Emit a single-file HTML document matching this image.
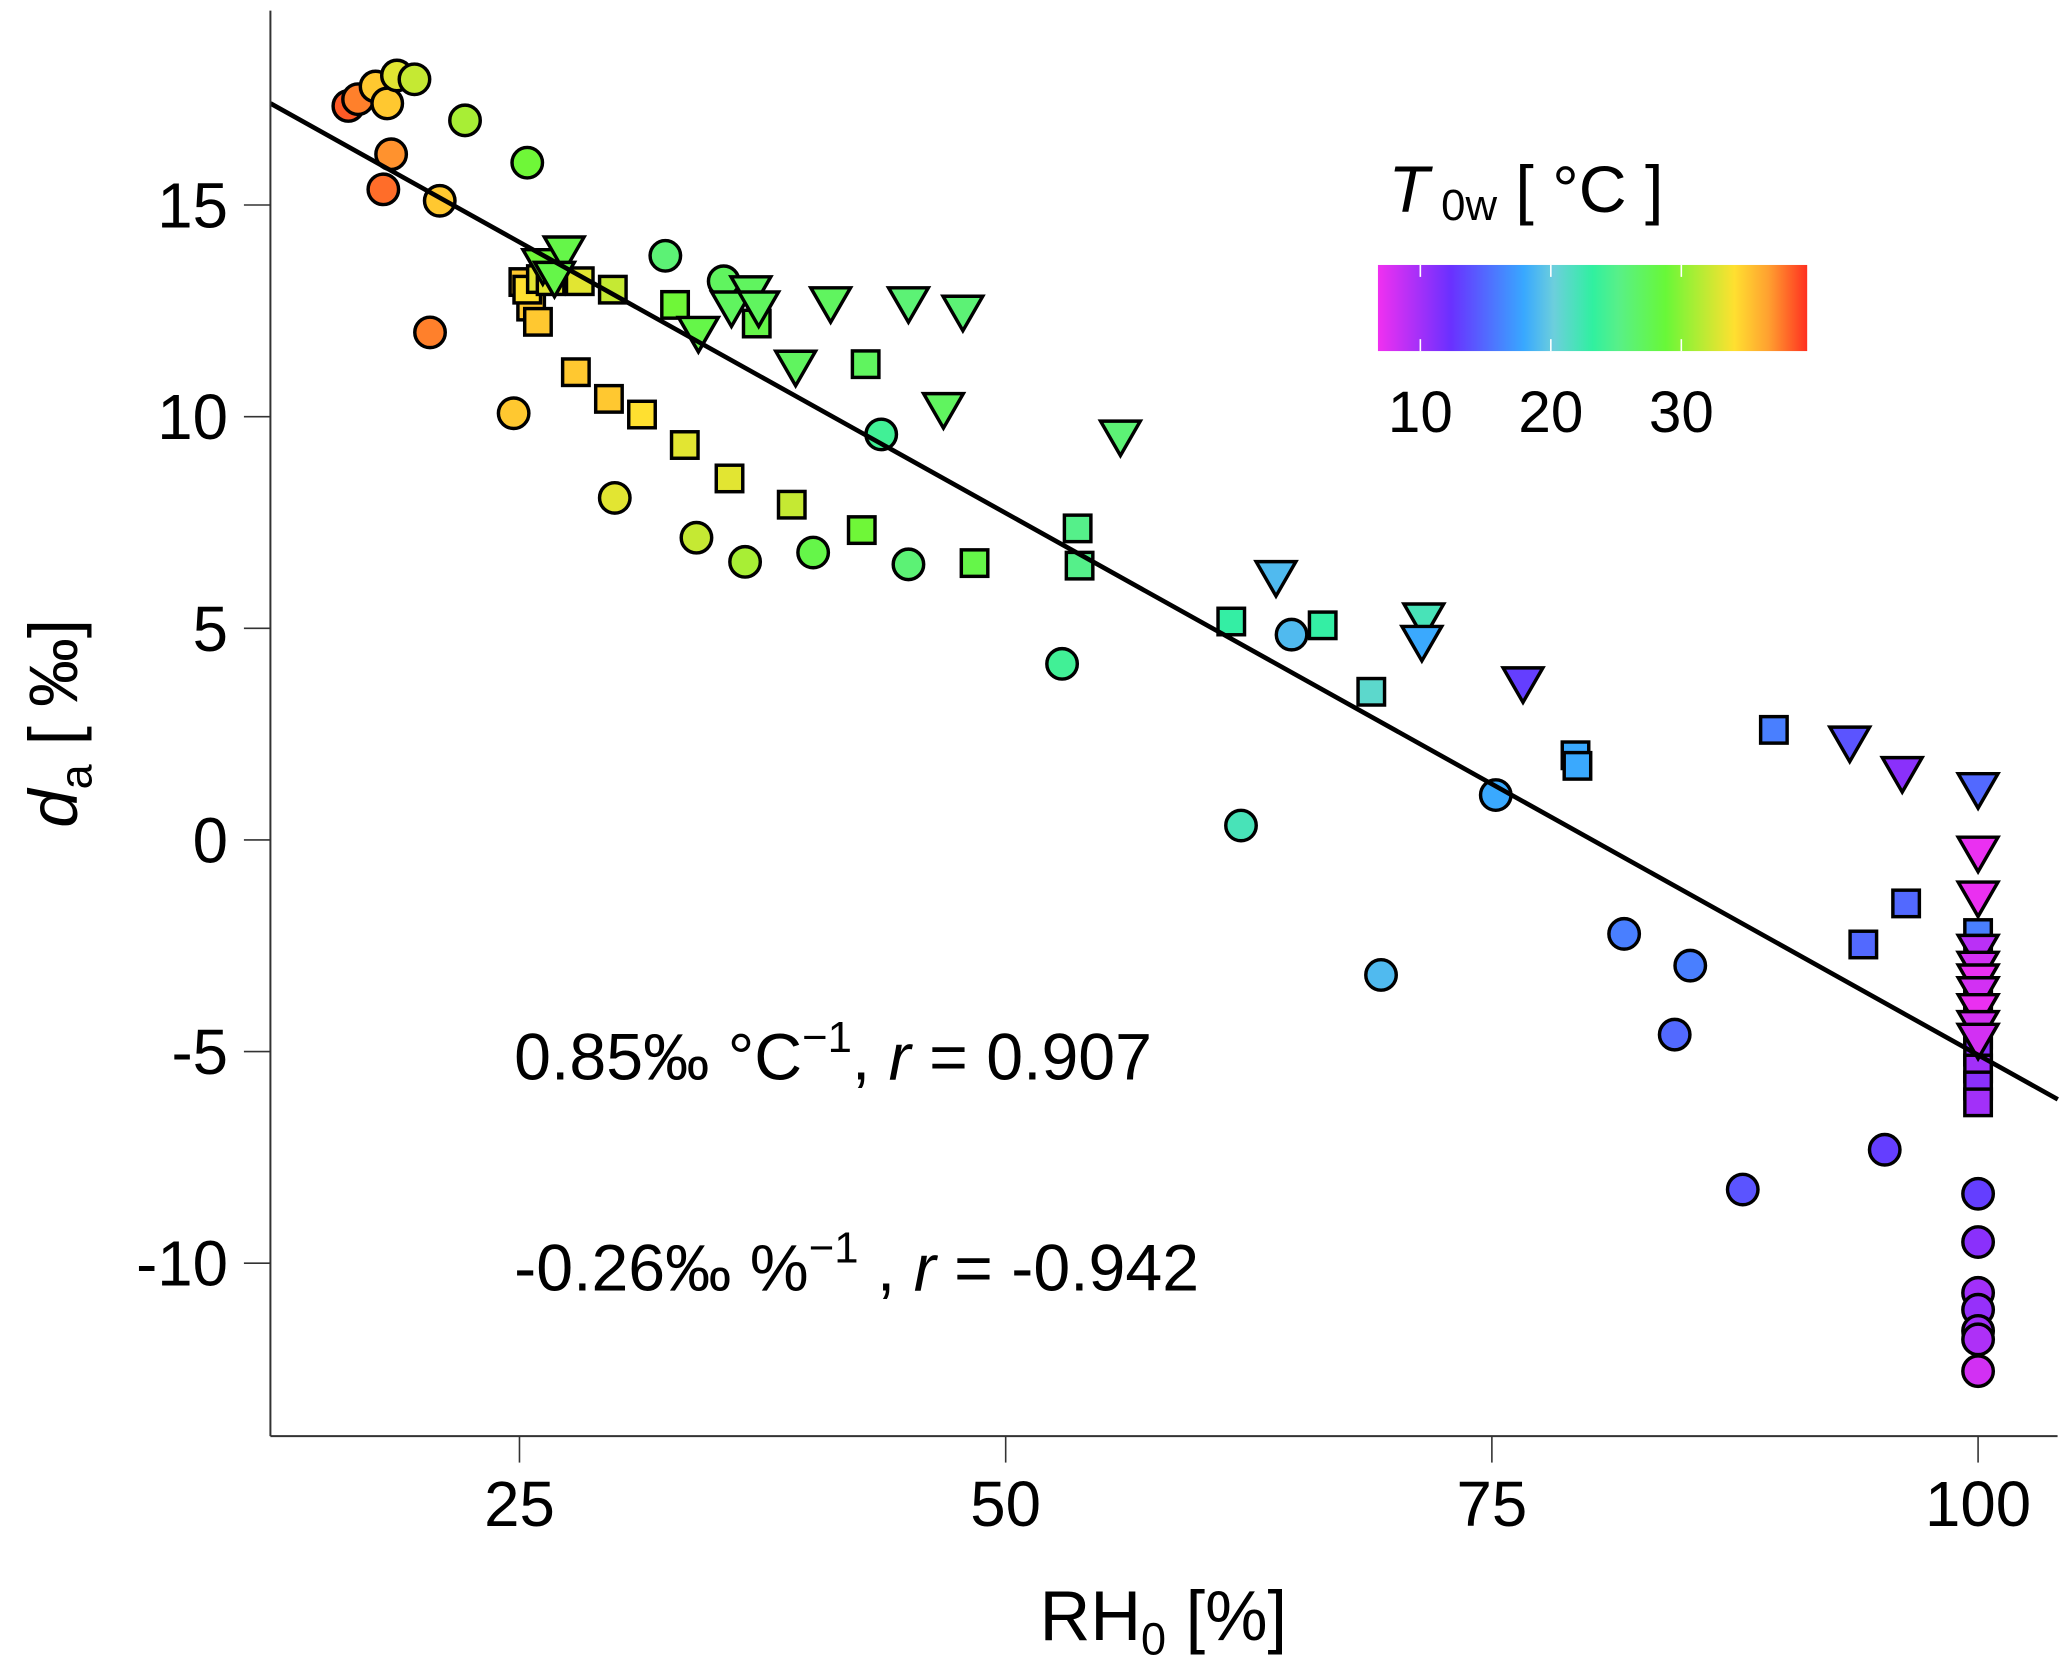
<!DOCTYPE html>
<html><head><meta charset="utf-8"><style>
html,body{margin:0;padding:0;background:#fff;}
svg{display:block;font-family:"Liberation Sans",sans-serif;}
</style></head><body>
<svg id="chart" width="2067" height="1656" viewBox="0 0 1560 1250" xmlns="http://www.w3.org/2000/svg">
<defs>
<linearGradient id="cbar" x1="0" x2="1" y1="0" y2="0">
<stop offset="0" stop-color="#f030f0"/>
<stop offset="0.17" stop-color="#6a30ff"/>
<stop offset="0.34" stop-color="#38a8ff"/>
<stop offset="0.41" stop-color="#6ccfdc"/>
<stop offset="0.5" stop-color="#30f0a0"/>
<stop offset="0.56" stop-color="#58f088"/>
<stop offset="0.67" stop-color="#68f838"/>
<stop offset="0.83" stop-color="#ffe030"/>
<stop offset="0.91" stop-color="#ffa030"/>
<stop offset="1" stop-color="#ff3020"/>
</linearGradient>
</defs>
<g id="marks"></g>
<line x1="204" y1="8" x2="204" y2="1084" stroke="#333" stroke-width="1.5"/>
<line x1="204" y1="1084" x2="1553" y2="1084" stroke="#333" stroke-width="1.5"/>
<g id="ticks"></g>
<text x="878" y="1238" font-size="53" text-anchor="middle">RH<tspan font-size="34" dy="11">0</tspan><tspan dy="-11"> [%]</tspan></text>
<text transform="translate(58,546) rotate(-90)" font-size="52" text-anchor="middle"><tspan font-style="italic">d</tspan><tspan font-size="34" dy="11">a</tspan><tspan dy="-11"> [ ‰]</tspan></text>
<text x="388" y="815" font-size="50">0.85‰ °C<tspan font-size="33" dy="-21">−1</tspan><tspan dy="21">, </tspan><tspan font-style="italic">r</tspan> = 0.907</text>
<text x="388" y="974" font-size="50">-0.26‰ %<tspan font-size="33" dy="-21">−1</tspan><tspan dy="21"> , </tspan><tspan font-style="italic">r</tspan> = -0.942</text>
<g>
<text x="1048" y="160" font-size="50"><tspan font-style="italic">T</tspan><tspan font-size="33" dy="6"> 0w</tspan><tspan dy="-6"> [ °C ]</tspan></text>
<rect x="1040" y="200" width="324" height="65" fill="url(#cbar)"/>
<g id="cbticks"></g>
</g>
</svg>
<script>
const xTicks=[25,50,75,100];
const yTicks=[15,10,5,0,-5,-10];
const cbTicks=[10,20,30];
const circX=[16.2,16.7,17.6,18.2,18.7,19.6,18.4,18.0,20.9,20.4,22.2,25.4,24.7,32.5,35.5,29.9,34.1,36.6,40.1,43.6,45.0,52.9,62.1,64.7,69.3,75.2,81.8,85.2,84.4,87.9,95.2,100,100,100,100,100,100,100];
const circY=[17.34,17.5,17.8,17.4,18.06,17.97,16.2,15.37,15.1,11.99,17.0,16.0,10.08,13.8,13.2,8.08,7.14,6.57,6.79,9.58,6.51,4.16,0.34,4.85,-3.19,1.06,-2.22,-2.97,-4.6,-8.26,-7.32,-8.36,-9.5,-10.7,-11.1,-11.6,-11.8,-12.55];
const circT=[38.5,37.5,35,35,33,32,37,38,35,37.5,31,29,35,26,27,33,32,31,28,24,26,24,22,19,19,18,16,16,15,14,13,13,11,10,10.5,10,9.5,8];
const sqX=[25.2,25.6,25.95,25.4,26.1,26.6,28.1,29.8,33.0,27.9,29.6,31.3,33.5,35.8,39.0,42.6,48.4,37.2,42.8,53.7,53.8,61.6,66.3,68.8,79.3,79.4,89.5,96.3,94.1,100,100,100,100,100,100,100,100,100,100,100];
const sqY=[13.18,12.6,12.24,13.0,13.25,13.2,13.2,13.0,12.64,11.05,10.42,10.05,9.33,8.54,7.92,7.32,6.54,12.2,11.24,7.36,6.48,5.16,5.07,3.5,2.0,1.75,2.6,-1.5,-2.47,-2.2,-2.6,-3.0,-3.4,-3.8,-4.2,-4.6,-5.0,-5.4,-5.8,-6.2];
const sqT=[35,35,35,34,33,33,33,32,29,35,35,34,33,33,32,29,28,28,27,25,25,23,23,21,18,18,16,15,15,16,12,11,11,10,11,10,11,10,11,10];
const triX=[26.2,27.3,26.8,34.2,35.9,36.9,37.3,39.2,41.0,45.0,47.8,46.8,55.9,63.9,71.5,71.4,76.6,93.4,96.1,100,100,100,100,100,100,100,100,100,100];
const triY=[13.6,13.9,13.3,12.0,12.6,12.96,12.6,11.2,12.7,12.7,12.5,10.2,9.55,6.23,5.23,4.7,3.72,2.32,1.6,1.22,-0.28,-1.34,-2.6,-3.0,-3.3,-3.6,-4.0,-4.4,-4.7];
const triT=[29,28,28,28,27,27,27,27,27,26,26,27,26,19,22,18,13,14,11,15,7,7,9,8,7,8,7,8,8];
const fitX=[12.2,104.1];
const fitY=[17.4,-6.13];

const NS="http://www.w3.org/2000/svg";
function sx(v){return 392+(v-25)*14.68;}
function sy(v){return 634-v*31.95;}
function cbx(t){return 1072+(t-10)*9.85;}
const tMin=6.75,tMax=39.6;
const stops=[[0,[240,48,240]],[0.17,[106,48,255]],[0.34,[56,168,255]],[0.41,[108,207,220]],[0.5,[48,240,160]],[0.56,[88,240,136]],[0.67,[104,248,56]],[0.83,[255,224,48]],[0.91,[255,160,48]],[1,[255,48,32]]];
function col(t){
  const f0=Math.max(0,Math.min(1,(t-tMin)/(tMax-tMin)));
  for(let i=1;i<stops.length;i++){
    if(f0<=stops[i][0]){const a=stops[i-1],b=stops[i];const f=(f0-a[0])/(b[0]-a[0]);
      return 'rgb('+a[1].map((c,k)=>Math.round(c+(b[1][k]-c)*f)).join(',')+')';}
  }
  return 'rgb('+stops[stops.length-1][1]+')';
}
function mk(tag,attrs,parent){const e=document.createElementNS(NS,tag);for(const k in attrs)e.setAttribute(k,attrs[k]);parent.appendChild(e);return e;}
const marks=document.getElementById('marks');
const ticks=document.getElementById('ticks');
const cbt=document.getElementById('cbticks');

xTicks.forEach(v=>{
  const l=mk('line',{x1:sx(v),x2:sx(v),y1:1084,y2:1104,stroke:'#333','stroke-width':1.2},ticks);
  
  
  const t=mk('text',{x:sx(v),y:1152,'font-size':48,'text-anchor':'middle'},ticks);
  t.textContent=v;
  
  
});
yTicks.forEach(v=>{
  const l=mk('line',{x1:184,x2:204,y1:sy(v),y2:sy(v),stroke:'#333','stroke-width':1.2},ticks);
  
  
  const t=mk('text',{x:172,y:sy(v)+17,'font-size':48,'text-anchor':'end'},ticks);
  t.textContent=v;
  
  
});
cbTicks.forEach(v=>{
  const l=mk('line',{x1:cbx(v),x2:cbx(v),y1:200,y2:209,stroke:'#fff','stroke-width':1.2},cbt);
  
  
  const l2=mk('line',{x1:cbx(v),x2:cbx(v),y1:256,y2:265,stroke:'#fff','stroke-width':1.2},cbt);
  
  
  const t=mk('text',{x:cbx(v),y:326,'font-size':44,'text-anchor':'middle'},cbt);
  t.textContent=v;
  
  
});

circX.forEach((v,i)=>{
  const c=mk('circle',{cx:sx(v),cy:sy(circY[i]),r:11.5,fill:col(circT[i]),stroke:'#000','stroke-width':2.6},marks);
  
  
});
sqX.forEach((v,i)=>{
  const x=sx(v),y=sy(sqY[i]);
  const r=mk('rect',{x:x-10,y:y-10,width:20,height:20,fill:col(sqT[i]),stroke:'#000','stroke-width':2.6},marks);
  
  
});
triX.forEach((v,i)=>{
  const x=sx(v),y=sy(triY[i]);
  const p=mk('polygon',{points:(x-15)+','+(y-11)+' '+(x+15)+','+(y-11)+' '+x+','+(y+15),fill:col(triT[i]),stroke:'#000','stroke-width':2.6,'stroke-linejoin':'miter'},marks);
  
  
});
const fl=mk('line',{x1:sx(fitX[0]),y1:sy(fitY[0]),x2:sx(fitX[1]),y2:sy(fitY[1]),stroke:'#000','stroke-width':3.5},marks);


</script>
</body></html>
